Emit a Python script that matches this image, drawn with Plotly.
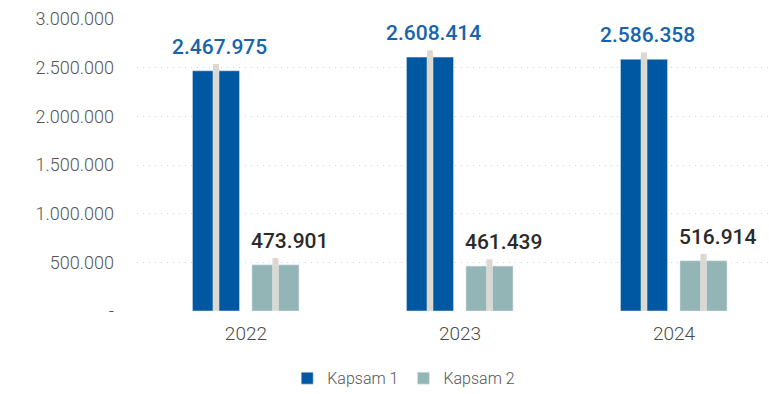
import plotly.graph_objects as go

# Emissions by year (tCO2e)
years = ["2022", "2023", "2024"]
kapsam1 = [2467975, 2608414, 2586358]
kapsam2 = [473901, 461439, 516914]
series_names = ["Kapsam 1", "Kapsam 2"]
value_labels_1 = ["2.467.975", "2.608.414", "2.586.358"]
value_labels_2 = ["473.901", "461.439", "516.914"]
y_tickvals = [0, 500000, 1000000, 1500000, 2000000, 2500000, 3000000]
y_ticktext = ["-", "500.000", "1.000.000", "1.500.000", "2.000.000", "2.500.000", "3.000.000"]

BLUE = "#0057A2"
TEAL = "#93B5B5"
STRIPE = "#DDD8CF"
LABEL_BLUE = "#1763AE"
LABEL_DARK = "#2A2A2A"
FONT = "Roboto"

BAR_W = 0.22
STRIPE_W = 0.028
STRIPE_OVERSHOOT = 70000

fig = go.Figure()

fig.add_trace(go.Bar(
    x=years, y=kapsam1, name=series_names[0], marker_color=BLUE,
    width=BAR_W, offset=-0.25, hoverinfo="skip",
))
fig.add_trace(go.Bar(
    x=years, y=kapsam2, name=series_names[1], marker_color=TEAL,
    width=BAR_W, offset=0.028, hoverinfo="skip",
))

# thin light stripes running through the middle of each bar
for vals, off in ((kapsam1, -0.154), (kapsam2, 0.124)):
    fig.add_trace(go.Bar(
        x=years, y=vals, marker_color=STRIPE, width=STRIPE_W, offset=off,
        showlegend=False, hoverinfo="skip",
        error_y=dict(type="data", symmetric=False,
                     array=[STRIPE_OVERSHOOT] * len(vals), arrayminus=[0] * len(vals),
                     color=STRIPE, thickness=6, width=0),
    ))

# value labels above the bars
for i, yr in enumerate(years):
    fig.add_annotation(x=i, y=kapsam1[i], text=value_labels_1[i], showarrow=False,
                       xshift=-26, yshift=24,
                       font=dict(family=FONT, size=21, color=LABEL_BLUE, weight=500))
    fig.add_annotation(x=i, y=kapsam2[i], text=value_labels_2[i], showarrow=False,
                       xshift=44, yshift=24,
                       font=dict(family=FONT, size=21, color=LABEL_DARK, weight=500))

fig.update_layout(
    width=769, height=394,
    margin=dict(l=137, r=0, t=19, b=83),
    barmode="overlay",
    plot_bgcolor="white", paper_bgcolor="white",
    font=dict(family=FONT, color="#555555"),
    xaxis=dict(
        type="category",
        range=[-0.509, 2.444], showgrid=False, zeroline=False, showline=False,
        ticks="", tickfont=dict(size=19, color="#4A4A4A", weight=300),
        ticklabelstandoff=9, fixedrange=True,
    ),
    yaxis=dict(
        range=[0, 3000000], tickvals=y_tickvals, ticktext=y_ticktext,
        showgrid=True, gridcolor="#D4D4D4", griddash="1px,5px", gridwidth=1,
        zeroline=False, showline=False, ticks="",
        tickfont=dict(size=18, color="#555555", weight=300), ticklabelstandoff=22,
        fixedrange=True,
    ),
    legend=dict(
        orientation="h", xref="container", yref="container",
        x=0.525, xanchor="center", y=0.04, yanchor="middle",
        font=dict(size=16, color="#555555", weight=300), traceorder="normal",
        itemwidth=30,
    ),
    showlegend=True,
)

fig.write_html("out.html")
